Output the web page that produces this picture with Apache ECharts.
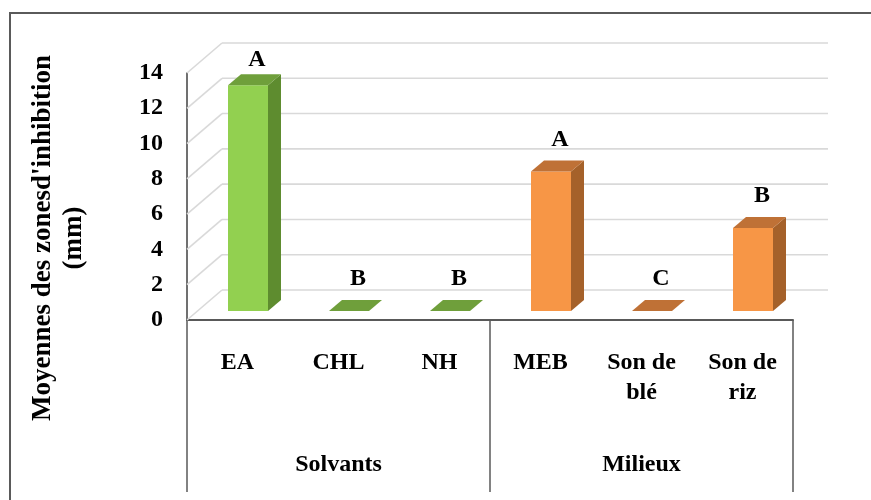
<!DOCTYPE html>
<html>
<head>
<meta charset="utf-8">
<script src="https://cdn.jsdelivr.net/npm/echarts@6/dist/echarts.min.js"></script>
<style>
  html, body { margin: 0; padding: 0; background: #ffffff; }
  #chart { width: 871px; height: 500px; }
</style>
</head>
<body>
<div id="chart"></div>
<script>
// Mean inhibition zone diameters (mm) per extract / medium
const categories = ['EA', 'CHL', 'NH', 'MEB', 'Son de\nblé', 'Son de\nriz'];
const groups = ['Solvants', 'Milieux'];
const groupOf = [0, 0, 0, 1, 1, 1];
const inhibition = [12.8, 0, 0, 7.9, 0, 4.7];
const letters = ['A', 'B', 'B', 'A', 'C', 'B'];
const yTicks = [0, 2, 4, 6, 8, 10, 12, 14];

const FONT = '"Liberation Serif", "Times New Roman", serif';
const WALL = [35, -30];        // depth of the floor and side wall
const BAR_SHIFT = [10.5, -9];  // bars stand a little behind the front edge
const BAR_DEPTH = [13, -11];   // thickness of each block
const BAR_W = 40;
const palette = [
  { front: '#92d050', side: '#5e8c2f', top: '#6f9f3b' },
  { front: '#f79646', side: '#a5612a', top: '#bf7136' }
];

// back wall gridlines and side wall diagonals
function renderWalls(params, api) {
  const cs = params.coordSys;
  const y = api.coord([0, api.value(1)])[1];
  const x0 = cs.x, x1 = cs.x + cs.width;
  const style = { stroke: '#d9d9d9', lineWidth: 1.6 };
  return {
    type: 'group',
    children: [
      { type: 'line', shape: { x1: x0, y1: y, x2: x0 + WALL[0], y2: y + WALL[1] }, style },
      { type: 'line', shape: { x1: x0 + WALL[0], y1: y + WALL[1], x2: x1 + WALL[0], y2: y + WALL[1] }, style }
    ]
  };
}

// one block per category: front face, right side, top face and letter
function renderBar(params, api) {
  const i = api.value(0);
  const v = api.value(1);
  const base = api.coord([i, 0]);
  const head = api.coord([i, v]);
  const cx = base[0] + BAR_SHIFT[0];
  const xl = cx - BAR_W / 2, xr = cx + BAR_W / 2;
  const yb = base[1] + BAR_SHIFT[1];
  const yt = head[1] + BAR_SHIFT[1];
  const dx = BAR_DEPTH[0], dy = BAR_DEPTH[1];
  const c = palette[groupOf[i]];
  const children = [];
  if (yb - yt > 0.5) {
    children.push({ type: 'rect', shape: { x: xl, y: yt, width: BAR_W, height: yb - yt }, style: { fill: c.front } });
    children.push({ type: 'polygon', shape: { points: [[xr, yt], [xr + dx, yt + dy], [xr + dx, yb + dy], [xr, yb]] }, style: { fill: c.side } });
  }
  children.push({ type: 'polygon', shape: { points: [[xl, yt], [xr, yt], [xr + dx, yt + dy], [xl + dx, yt + dy]] }, style: { fill: c.top } });
  children.push({
    type: 'text',
    style: {
      text: letters[i], x: cx + 9, y: Math.max(yt - 32, 60),
      fontFamily: FONT, fontWeight: 'bold', fontSize: 24, fill: '#000',
      align: 'center', verticalAlign: 'middle'
    }
  });
  return { type: 'group', children };
}

const chart = echarts.init(document.getElementById('chart'), null, { renderer: 'canvas' });
chart.setOption({
  animation: false,
  backgroundColor: '#ffffff',
  grid: { left: 187, right: 78, top: 73, bottom: 180, outerBoundsMode: 'none' },
  xAxis: [
    {
      type: 'category', data: categories, position: 'bottom',
      axisLine: { show: true, lineStyle: { color: '#595959', width: 2 } },
      axisTick: { show: false },
      axisLabel: {
        interval: 0, margin: 28, lineHeight: 30,
        fontFamily: FONT, fontWeight: 'bold', fontSize: 24, color: '#000'
      }
    },
    {
      type: 'category', data: groups, position: 'bottom', gridIndex: 0,
      axisLine: { show: false },
      axisTick: { show: true, length: 172, lineStyle: { color: '#595959', width: 1.5 } },
      axisLabel: {
        interval: 0, margin: 130, lineHeight: 30,
        fontFamily: FONT, fontWeight: 'bold', fontSize: 24, color: '#000'
      }
    }
  ],
  yAxis: {
    type: 'value', min: 0, max: 14, interval: 2,
    axisLine: { show: true, lineStyle: { color: '#404040', width: 1.5 } },
    axisTick: { show: false },
    splitLine: { show: false },
    axisLabel: { margin: 24, fontFamily: FONT, fontWeight: 'bold', fontSize: 24, color: '#000' }
  },
  graphic: [
    {
      type: 'rect', z: -10,
      shape: { x: 10, y: 13, width: 900, height: 520 },
      style: { fill: 'none', stroke: '#5a5a5a', lineWidth: 2 }
    },
    {
      type: 'text', x: 59, y: 238, rotation: Math.PI / 2,
      style: {
        text: "Moyennes des zonesd'inhibition\n(mm)",
        fontFamily: FONT, fontWeight: 'bold', fontSize: 27, lineHeight: 31, fill: '#000',
        align: 'center', verticalAlign: 'middle',
        textAlign: 'center', textVerticalAlign: 'middle'
      }
    }
  ],
  series: [
    {
      type: 'custom', name: 'walls', z: 1,
      renderItem: renderWalls,
      encode: { x: 0, y: 1 },
      data: yTicks.map(v => [0, v]),
      silent: true
    },
    {
      type: 'custom', name: 'Moyennes', z: 5,
      renderItem: renderBar,
      encode: { x: 0, y: 1 },
      data: inhibition.map((v, i) => [i, v])
    }
  ]
});
</script>
</body>
</html>
